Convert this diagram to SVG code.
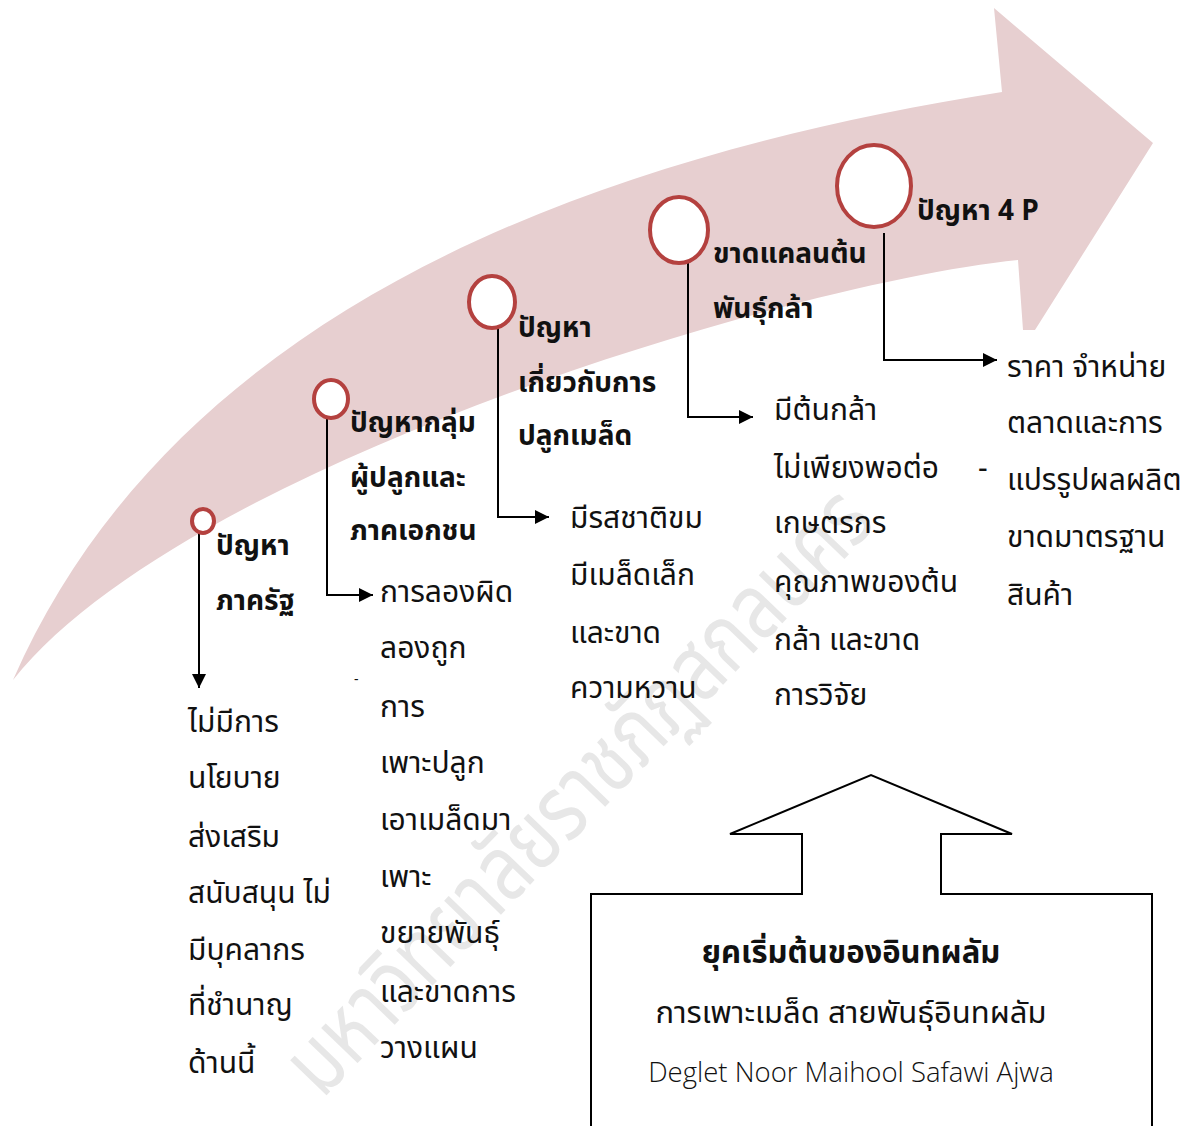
<svg xmlns="http://www.w3.org/2000/svg" width="1190" height="1126" viewBox="0 0 1190 1126">
<style>
  .body { font-family: "Noto Sans Thai", "Noto Sans Thai Looped", "Noto Sans", "DejaVu Sans", sans-serif; font-size: 30px; fill: #111; }
  .bold { font-family: "Noto Sans Thai", "Noto Sans Thai Looped", "Noto Sans", "DejaVu Sans", sans-serif; font-size: 28px; font-weight: bold; fill: #111; }
  .title { font-size: 31px; }
  .sub { font-size: 31px; }
  .lat { font-family: "Open Sans", "Noto Sans", sans-serif; font-size: 27.5px; font-weight: 300; fill: #111; }
  .dot { fill: #ffffff; stroke: #b4413f; stroke-width: 4; }
  .conn { fill: none; stroke: #000; stroke-width: 2; }
  .wm { font-family: "Noto Sans Thai", "Noto Sans", sans-serif; font-size: 92px; fill: #d4d4d4; opacity: 0.55; }
</style>
<defs>
  <marker id="ah" viewBox="0 0 10 10" refX="10" refY="5" markerWidth="7" markerHeight="7" markerUnits="strokeWidth" orient="auto">
    <path d="M0,0 L10,5 L0,10 z" fill="#000"/>
  </marker>
</defs>
<rect width="1190" height="1126" fill="#ffffff"/>

<g id="big-arrow">
  <path d="M13,680 C175,310 590,157 1002,92 L994,8 L1153,143 L1035,330 L1023,330 L1018,260 C790,283 180,468 13,680 Z" fill="#e7cfd0"/>
</g>

<g id="watermark">
  <text class="wm" x="322" y="1100" transform="rotate(-46 322 1100)" textLength="800" lengthAdjust="spacingAndGlyphs">มหาวิทยาลัยราชภัฏสกลนคร</text>
</g>

<g id="connectors">
  <path class="conn" d="M199,518 V688" marker-end="url(#ah)"/>
  <path class="conn" d="M327,417 V595 H373" marker-end="url(#ah)"/>
  <path class="conn" d="M498,328 V517 H549" marker-end="url(#ah)"/>
  <path class="conn" d="M688,262 V417 H753" marker-end="url(#ah)"/>
  <path class="conn" d="M884,233 V360 H997" marker-end="url(#ah)"/>
</g>

<g id="node1">
  <ellipse class="dot" cx="203" cy="521" rx="11" ry="12"/>
  <text class="bold" x="216" y="555">ปัญหา</text>
  <text class="bold" x="216" y="610">ภาครัฐ</text>
  <text class="body" x="188" y="732">ไม่มีการ</text>
  <text class="body" x="188" y="788">นโยบาย</text>
  <text class="body" x="188" y="847">ส่งเสริม</text>
  <text class="body" x="188" y="903">สนับสนุน ไม่</text>
  <text class="body" x="188" y="960">มีบุคลากร</text>
  <text class="body" x="188" y="1015">ที่ชำนาญ</text>
  <text class="body" x="188" y="1073">ด้านนี้</text>
</g>

<g id="node2">
  <ellipse class="dot" cx="331" cy="399" rx="17" ry="19"/>
  <text class="bold" x="350" y="432">ปัญหากลุ่ม</text>
  <text class="bold" x="350" y="487">ผู้ปลูกและ</text>
  <text class="bold" x="350" y="540">ภาคเอกชน</text>
  <text class="body" x="380" y="602">การลองผิด</text>
  <text class="body" x="380" y="658">ลองถูก</text>
  <text class="body" x="354" y="684" style="font-size:14px">-</text>
  <text class="body" x="380" y="717">การ</text>
  <text class="body" x="380" y="773">เพาะปลูก</text>
  <text class="body" x="380" y="830">เอาเมล็ดมา</text>
  <text class="body" x="380" y="887">เพาะ</text>
  <text class="body" x="380" y="943">ขยายพันธุ์</text>
  <text class="body" x="380" y="1002">และขาดการ</text>
  <text class="body" x="380" y="1058">วางแผน</text>
</g>

<g id="node3">
  <ellipse class="dot" cx="492" cy="302" rx="23" ry="26"/>
  <text class="bold" x="518" y="337">ปัญหา</text>
  <text class="bold" x="518" y="392">เกี่ยวกับการ</text>
  <text class="bold" x="518" y="445">ปลูกเมล็ด</text>
  <text class="body" x="570" y="528">มีรสชาติขม</text>
  <text class="body" x="570" y="585">มีเมล็ดเล็ก</text>
  <text class="body" x="570" y="643">และขาด</text>
  <text class="body" x="570" y="698">ความหวาน</text>
</g>

<g id="node4">
  <ellipse class="dot" cx="679" cy="230" rx="29" ry="33"/>
  <text class="bold" x="713" y="263">ขาดแคลนต้น</text>
  <text class="bold" x="713" y="318">พันธุ์กล้า</text>
  <text class="body" x="774" y="420">มีต้นกล้า</text>
  <text class="body" x="774" y="478">ไม่เพียงพอต่อ</text>
  <text class="body" x="774" y="533">เกษตรกร</text>
  <text class="body" x="774" y="592">คุณภาพของต้น</text>
  <text class="body" x="774" y="650">กล้า และขาด</text>
  <text class="body" x="774" y="705">การวิจัย</text>
</g>

<g id="node5">
  <ellipse class="dot" cx="874" cy="186" rx="37" ry="41"/>
  <text class="bold" x="917" y="220">ปัญหา 4 P</text>
  <text class="body" x="978" y="478">-</text>
  <text class="body" x="1007" y="377">ราคา จำหน่าย</text>
  <text class="body" x="1007" y="433">ตลาดและการ</text>
  <text class="body" x="1007" y="490">แปรรูปผลผลิต</text>
  <text class="body" x="1007" y="547">ขาดมาตรฐาน</text>
  <text class="body" x="1007" y="605">สินค้า</text>
</g>

<g id="era-box">
  <path d="M591,1130 V894 H802 V834 H730 L871,775 L1012,834 H941 V894 H1152 V1130" fill="#ffffff" stroke="#000" stroke-width="2"/>
  <text class="bold title" x="851" y="963" text-anchor="middle">ยุคเริ่มต้นของอินทผลัม</text>
  <text class="body sub" x="851" y="1023" text-anchor="middle">การเพาะเมล็ด สายพันธุ์อินทผลัม</text>
  <text class="lat" x="851" y="1082" text-anchor="middle">Deglet Noor Maihool Safawi Ajwa</text>
</g>
</svg>
